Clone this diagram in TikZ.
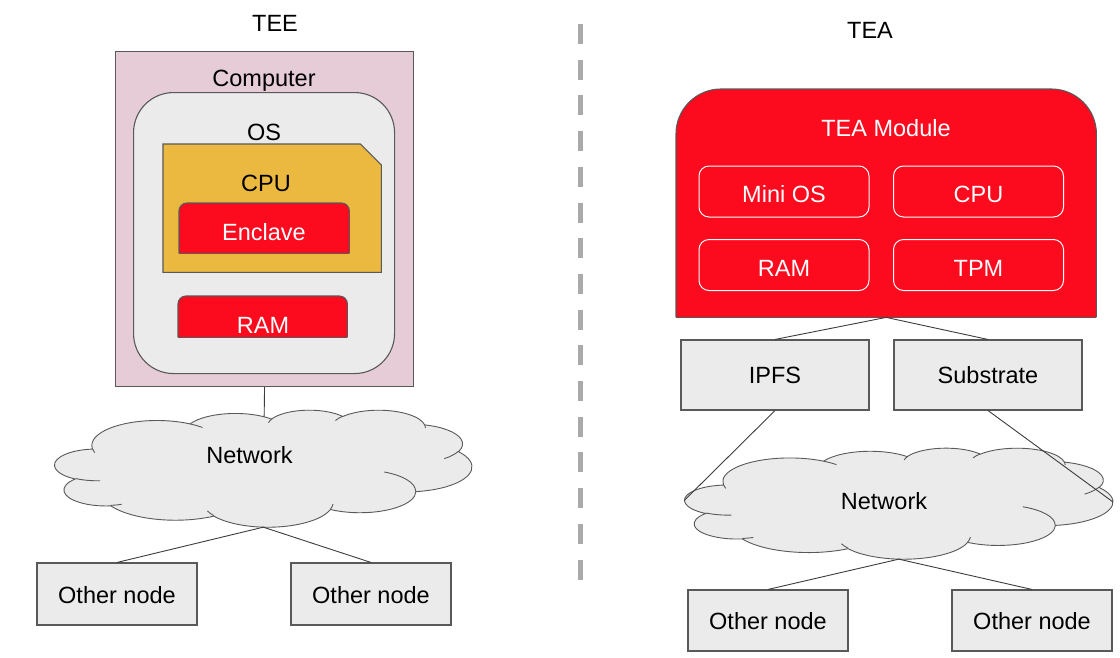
\documentclass[tikz,border=0pt]{standalone}
\usepackage{fontspec}
\setmainfont{Liberation Sans}
\usetikzlibrary{calc}
\definecolor{tred}{RGB}{252,10,30}
\definecolor{pinkbg}{RGB}{230,204,214}
\definecolor{gold}{RGB}{236,185,64}
\definecolor{lgray}{RGB}{235,235,235}
\definecolor{bord}{RGB}{89,89,89}
\definecolor{dashgray}{RGB}{170,170,170}
\definecolor{linec}{RGB}{60,60,60}
\tikzset{
  ooarc/.style n args={4}{insert path={arc[x radius=#1, y radius=#2,
     start angle={atan2((#1)*sin(#3),(#2)*cos(#3))},
     delta angle={mod(atan2((#1)*sin((#3)+(#4)),(#2)*cos((#3)+(#4)))-atan2((#1)*sin(#3),(#2)*cos(#3))+720,360)}]}}
}
% cloud outline in a 432 x 432 frame (y downwards)
\newcommand{\ooCloudShape}[1]{%
  \filldraw[#1] (39.00,143.70) [ooarc={67.53}{91.90}{-190.4875}{123.7805}]
    [ooarc={53.33}{72.67}{-144.1024}{89.9452}]
    [ooarc={43.65}{59.45}{-145.8079}{99.7230}]
    [ooarc={48.57}{65.95}{-130.9861}{117.2417}]
    [ooarc={53.33}{72.73}{-78.7089}{109.0269}]
    [ooarc={67.75}{92.20}{-46.2673}{130.2690}]
    [ooarc={57.85}{78.67}{0.6250}{114.0333}]
    [ooarc={67.52}{92.15}{22.4516}{115.1726}]
    [ooarc={77.20}{105.43}{66.2426}{75.7110}]
    [ooarc={43.60}{59.18}{-274.9421}{146.7356}]
    [ooarc={43.45}{59.45}{-246.8285}{152.5189}] -- cycle;
  \draw[#1, fill=none] (46.93,261.77) [ooarc={43.45}{59.45}{86.7420}{26.4295}]
    (69.28,348.99) [ooarc={43.60}{59.18}{73.6105}{11.4475}]
    (164.78,390.90) [ooarc={67.52}{92.15}{137.6242}{14.0811}]
    (288.27,347.51) [ooarc={67.52}{92.15}{6.4533}{15.9984}]
    (341.29,229.54) [ooarc={57.85}{78.67}{-70.2924}{70.9174}]
    (417.98,153.54) [ooarc={53.33}{72.73}{30.3180}{27.7515}]
    (383.24,54.26) [ooarc={48.57}{65.95}{-13.7443}{14.8576}]
    (290.78,39.52) [ooarc={48.57}{65.95}{-149.1815}{18.1954}]
    (221.41,47.20) [ooarc={43.65}{59.45}{-163.4943}{17.6864}]
    (140.00,51.92) [ooarc={67.53}{91.90}{-66.7070}{12.3194}]
    (41.27,157.89) [ooarc={67.53}{91.90}{157.6544}{11.8582}];
}
\begin{document}
\begin{tikzpicture}[x=1pt,y=-1pt,
  every node/.style={font=\fontsize{23.5}{28}\selectfont, inner sep=0pt, text=black, text height=16.8pt, text depth=0pt},
  graybox/.style={draw=bord, fill=lgray, line width=1.1pt},
  othernode/.style={graybox, minimum width=160pt, text height=18.5pt},
  compbox/.style={draw=bord, fill=pinkbg, line width=1.1pt},
  osbox/.style={draw=bord, fill=lgray, line width=1.1pt, rounded corners=40pt},
  cpubox/.style={draw=bord, fill=gold, line width=1.1pt},
  redtop/.style={draw=bord, fill=tred, line width=1.1pt},
  minibox/.style={draw=white, fill=tred, line width=1pt, rounded corners=10pt, text=white, minimum width=170pt, minimum height=51pt, text height=22.8pt},
  cloudline/.style={draw=bord, fill=lgray, line width=0.9pt},
  conn/.style={draw=linec, line width=0.9pt},
  wtext/.style={text=white}]
\useasboundingbox (0,0) rectangle (1120,657);

% ---------------- left: TEE ----------------
\node (tee) at (275,22.7) {TEE};
\node[compbox, anchor=north west, minimum width=298pt, minimum height=335pt] (comp) at (115,51) {};
\node (comptxt) at (264,78) {Computer};
\node[osbox, anchor=north west, minimum width=261pt, minimum height=281pt] (os) at (133,92) {};
\node (ostxt) at (264,132.5) {OS};
\node[anchor=north west, minimum width=218pt, minimum height=128pt] (cpu) at (163,144) {};
\draw[cpubox] (cpu.south west) -- (cpu.north west) -- ([xshift=-21pt]cpu.north east) -- ([yshift=-21pt]cpu.north east) -- (cpu.south east) -- cycle;
\node (cputxt) at (266,183) {CPU};
\node[anchor=north west, minimum width=170pt, minimum height=50pt] (encl) at (179,203) {};
\filldraw[redtop, rounded corners=8pt] (encl.south west) -- (encl.north west) -- (encl.north east) -- (encl.south east);
\draw[draw=bord, line width=1.1pt] (encl.south west) -- (encl.south east);
\node[wtext] (encltxt) at (264,232) {Enclave};
\node[anchor=north west, minimum width=169pt, minimum height=41pt] (ramL) at (178,296) {};
\filldraw[redtop, rounded corners=8pt] (ramL.south west) -- (ramL.north west) -- (ramL.north east) -- (ramL.south east);
\draw[draw=bord, line width=1.1pt] (ramL.south west) -- (ramL.south east);
\node[wtext] (ramLtxt) at (263,325) {RAM};

\node[minimum width=417pt, minimum height=117pt] (cloudL) at (263.5,468.5) {};
\draw[conn] (comp.south) -- (cloudL.center);
\begin{scope}[shift={(cloudL.north west)}, x=0.96528pt, y=-0.27083pt]
  \ooCloudShape{cloudline}
  \coordinate (cloudLb) at (216,433.34);
\end{scope}
\node (netL) at (249.5,455) {Network};
\node[othernode, minimum height=62pt] (oL1) at (117,594) {Other node};
\node[othernode, minimum height=62pt] (oL2) at (371,594) {Other node};
\draw[conn] (cloudLb) -- (oL1.north);
\draw[conn] (cloudLb) -- (oL2.north);

% ---------------- divider ----------------
\coordinate (dtop) at (580,24);
\coordinate (dbot) at (580,580);
\draw[dashgray, line width=5pt, dash pattern=on 20pt off 15.7pt] (dtop) -- (dbot);

% ---------------- right: TEA ----------------
\node (tea) at (870,30) {TEA};
\node[anchor=north west, minimum width=420pt, minimum height=228pt] (mod) at (676,89) {};
\filldraw[redtop, rounded corners=45pt] (mod.south west) -- (mod.north west) -- (mod.north east) -- (mod.south east);
\draw[draw=bord, line width=1.1pt] (mod.south west) -- (mod.south east);
\node[wtext] (modtxt) at (886,128) {TEA Module};
\node[minibox] (minios) at (784,191.5) {Mini OS};
\node[minibox] (cpuR) at (978.5,191.5) {CPU};
\node[minibox] (ramR) at (784,265) {RAM};
\node[minibox] (tpm) at (978.5,265) {TPM};

\node[graybox, minimum width=188pt, minimum height=70pt] (ipfs) at (775,375) {IPFS};
\node[graybox, minimum width=188pt, minimum height=70pt] (subs) at (988,375) {Substrate};
\draw[conn] (mod.south) -- (ipfs.north);
\draw[conn] (mod.south) -- (subs.north);

\node[minimum width=428pt, minimum height=111pt] (cloudR) at (899,503.5) {};
\begin{scope}[shift={(cloudR.north west)}, x=0.99074pt, y=-0.25694pt]
  \ooCloudShape{cloudline}
  \coordinate (cloudRw) at (-0.34,204.12);
  \coordinate (cloudRe) at (432.17,210.75);
  \coordinate (cloudRb) at (216,433.34);
\end{scope}
\node (netR) at (884,501.5) {Network};
\draw[conn] (ipfs.south) -- (cloudRw);
\draw[conn] (subs.south) -- (cloudRe);

\node[othernode, minimum height=61pt] (oR1) at (768,620.5) {Other node};
\node[othernode, minimum height=61pt] (oR2) at (1032,620.5) {Other node};
\draw[conn] (cloudRb) -- (oR1.north);
\draw[conn] (cloudRb) -- (oR2.north);
\end{tikzpicture}
\end{document}
